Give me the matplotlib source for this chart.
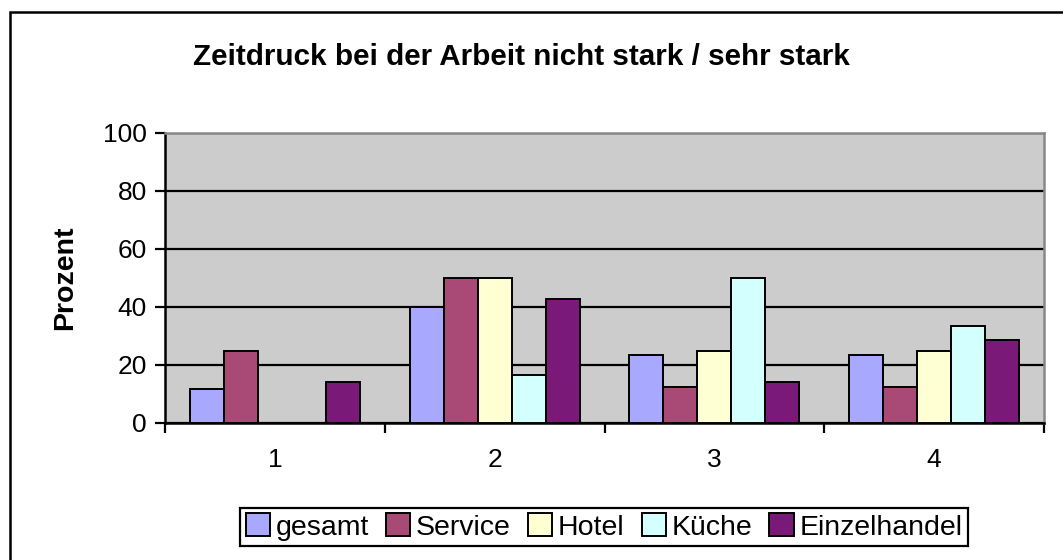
import numpy as np
import matplotlib
matplotlib.use("Agg")
import matplotlib.pyplot as plt
from matplotlib.patches import Rectangle

# data
categories = ["1", "2", "3", "4"]
series = ["gesamt", "Service", "Hotel", "Küche", "Einzelhandel"]
gesamt = [11.8, 40.0, 23.5, 23.5]
service = [25.0, 50.0, 12.5, 12.5]
hotel = [0.0, 50.0, 25.0, 25.0]
kueche = [0.0, 16.7, 50.0, 33.3]
einzelhandel = [14.3, 42.9, 14.3, 28.6]
colors = ["#A8A8FF", "#A94A76", "#FFFFD4", "#D4FFFF", "#7A1978"]

plt.rcParams['font.family'] = ['Liberation Sans', 'DejaVu Sans']

W, H = 1063, 560
fig = plt.figure(figsize=(W / 100, H / 100), dpi=100)
ax = fig.add_axes([165 / W, 1 - 423 / H, (1044 - 165) / W, (423 - 133) / H])

# outer chart frame (runs past right/bottom edge of the image)
fig.patches.append(Rectangle((10 / W, -0.1), 1.2, 1 - 12 / H + 0.1,
                             transform=fig.transFigure, fill=False,
                             edgecolor="black", linewidth=1.8, zorder=0))

ax.set_facecolor("#CCCCCC")
x = np.arange(len(categories))
bw = 0.1545
data = [gesamt, service, hotel, kueche, einzelhandel]
for i, (name, vals) in enumerate(zip(series, data)):
    ax.bar(x + (i - 2) * bw, vals, width=bw, color=colors[i], edgecolor="black",
           linewidth=1.4, label=name, zorder=3)

ax.set_xlim(-0.5, len(categories) - 0.5)
ax.set_ylim(0, 100)
ax.set_yticks([0, 20, 40, 60, 80, 100])
ax.yaxis.grid(True, color="black", linewidth=1.6, zorder=1)
ax.set_axisbelow(True)

ax.set_xticks(x)
ax.set_xticklabels(categories)
ax.set_xticks(np.arange(-0.5, len(categories), 1.0), minor=True)
ax.tick_params(axis="x", which="major", length=0, pad=18, labelsize=19)
ax.tick_params(axis="x", which="minor", length=7, width=1.6, direction="out")
ax.tick_params(axis="y", length=7, width=1.6, direction="out", pad=6, labelsize=19)

for side in ["left", "bottom"]:
    ax.spines[side].set_color("black")
    ax.spines[side].set_linewidth(1.8)
for side in ["top", "right"]:
    ax.spines[side].set_color("#888888")
    ax.spines[side].set_linewidth(1.8)

fig.text(65 / W, 1 - 278 / H, "Prozent", rotation=90, ha="center", va="center",
         fontsize=20.5, fontweight="bold")
fig.text(521 / W, 1 - 57 / H, "Zeitdruck bei der Arbeit nicht stark / sehr stark",
         ha="center", va="center", fontsize=21.3, fontweight="bold")

leg = fig.legend(loc="center", bbox_to_anchor=(604 / W, 1 - 527 / H), ncol=5,
                 fontsize=20.5, frameon=True, fancybox=False, edgecolor="black",
                 framealpha=1, handlelength=0.85, handleheight=0.85,
                 handletextpad=0.2, columnspacing=0.6, borderpad=0.2,
                 borderaxespad=0)
leg.get_frame().set_linewidth(1.6)

fig.savefig("out.png", dpi=100)
